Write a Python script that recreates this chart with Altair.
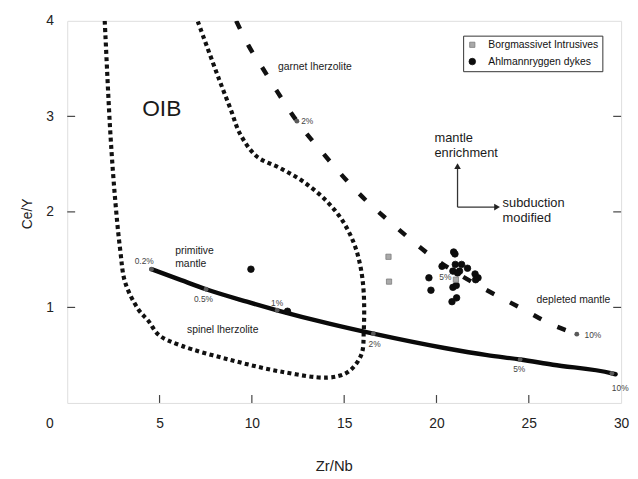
import altair as alt
import pandas as pd

# ---------------- data ----------------
X_TICKS = [0, 5, 10, 15, 20, 25, 30]
Y_TICKS = [0, 1, 2, 3, 4]
INNER_X_TICKS = [5, 10, 15, 20, 25]
INNER_Y_TICKS = [1, 2, 3]

series_names = ["Borgmassivet Intrusives", "Ahlmannryggen dykes"]

borg_x = [17.40, 17.43, 21.05]
borg_y = [1.53, 1.27, 1.29]

ahl_x = [9.95, 11.93, 19.59, 19.70, 20.30, 20.93, 21.00, 21.02, 21.36, 21.68,
         22.09, 22.25, 22.12, 20.89, 21.25, 21.14, 20.89, 21.07, 21.09, 20.84]
ahl_y = [1.40, 0.96, 1.31, 1.18, 1.43, 1.58, 1.56, 1.45, 1.45, 1.41,
         1.35, 1.31, 1.29, 1.38, 1.38, 1.36, 1.21, 1.23, 1.10, 1.06]

# primitive-mantle (spinel lherzolite) melting curve
melt_x = [4.56, 6.17, 7.52, 9.73, 11.37, 14.19, 16.58, 20.43, 22.74, 24.53, 26.30, 29.50, 29.70]
melt_y = [1.40, 1.285, 1.19, 1.06, 0.97, 0.83, 0.725, 0.575, 0.50, 0.455, 0.40, 0.31, 0.30]
melt_mark_x = [4.56, 7.52, 11.37, 16.58, 24.53, 29.50]
melt_mark_y = [1.40, 1.19, 0.97, 0.725, 0.455, 0.31]

# garnet lherzolite melting curve
garnet_x = [9.15, 9.82, 10.63, 11.34, 12.44, 13.83, 15.71, 17.75, 19.98, 22.35, 24.80, 26.04, 27.60]
garnet_y = [4.00, 3.74, 3.49, 3.27, 2.95, 2.62, 2.21, 1.85, 1.50, 1.22, 0.97, 0.84, 0.72]
garnet_mark_x = [12.44, 27.60]
garnet_mark_y = [2.95, 0.72]

# OIB field outline (open at the top)
oib_x = [2.03, 2.07, 2.34, 2.60, 2.87, 3.14, 3.85, 4.39, 4.97, 6.17, 8.84, 11.51, 14.10,
         15.08, 15.61, 15.97, 16.06, 16.06, 15.88, 15.53, 14.90, 14.01, 12.76, 11.51,
         10.27, 9.38, 8.84, 8.22, 7.06]
oib_y = [4.00, 3.84, 2.81, 2.12, 1.60, 1.26, 0.98, 0.86, 0.71, 0.60, 0.45, 0.33, 0.265,
         0.31, 0.40, 0.53, 0.74, 1.15, 1.43, 1.67, 1.91, 2.12, 2.32, 2.46,
         2.58, 2.81, 3.08, 3.39, 4.00]

# annotations
small_text = ["garnet lherzolite", "spinel lherzolite", "depleted mantle"]
small_x = [11.42, 6.49, 25.42]
small_y = [3.52, 0.764, 1.077]

two_line_small = ["primitive\nmantle"]
two_line_small_x = [5.85]
two_line_small_y = [1.637]

big_text = ["mantle\nenrichment", "subduction\nmodified"]
big_x = [19.89, 23.58]
big_y = [2.83, 2.157]

oib_label = ["OIB"]
oib_label_x = [5.12]
oib_label_y = [3.08]

pct_c_text = ["0.2%", "0.5%", "1%", "2%", "5%", "10%", "5%"]
pct_c_x = [4.17, 7.38, 11.37, 16.65, 24.48, 29.95, 20.48]
pct_c_y = [1.49, 1.085, 1.05, 0.62, 0.35, 0.155, 1.32]

pct_l_text = ["2%", "10%"]
pct_l_x = [12.67, 28.02]
pct_l_y = [2.95, 0.713]

# arrow (mantle enrichment / subduction modified)
arrow_x = [21.14, 21.14]
arrow_y = [2.05, 2.05]
arrow_x2 = [21.14, 23.25]
arrow_y2 = [2.46, 2.05]
head_up_x, head_up_y = [21.14], [2.48]
head_right_x, head_right_y = [23.28], [2.05]

# ---------------- chart ----------------
FONT = "Liberation Sans"
W, H = 561, 387

xs = alt.Scale(domain=[0, 30], nice=False, zero=False)
ys = alt.Scale(domain=[0, 4], nice=False, zero=False)

x_axis = alt.Axis(
    values=X_TICKS, title="Zr/Nb", grid=False, domain=False, ticks=False, tickSize=0,
    labelPadding=14, labelFontSize=14, labelFont=FONT, labelColor="#222",
    labelFlush=False, labelOverlap=False, format="d",
    labelOffset={"condition": {"test": "datum.value === 0", "value": -18}, "value": 0},
    titleFont=FONT, titleFontSize=15, titleFontWeight="normal", titleColor="#222",
    titleX=270, titleY=68, titleBaseline="alphabetic", titleAlign="center",
)
y_axis = alt.Axis(
    values=Y_TICKS, title="Ce/Y", grid=False, domain=False, ticks=False, tickSize=0,
    labelPadding=14, labelFontSize=14, labelFont=FONT, labelColor="#222",
    labelFlush=False, labelOverlap=False, format="d",
    labelExpr="datum.value === 0 ? '' : datum.label",
    titleFont=FONT, titleFontSize=14, titleFontWeight="normal", titleColor="#222",
    titleX=-40, titleY=195, titleBaseline="middle", titleAlign="center", titleAngle=-90,
)


def X(f="x"):
    return alt.X(f"{f}:Q", scale=xs, axis=x_axis)


def Y(f="y"):
    return alt.Y(f"{f}:Q", scale=ys, axis=y_axis)


pts = pd.DataFrame({
    "x": ahl_x + borg_x,
    "y": ahl_y + borg_y,
    "series": [series_names[1]] * len(ahl_x) + [series_names[0]] * len(borg_x),
})
melt = pd.DataFrame({"x": melt_x, "y": melt_y})
garnet = pd.DataFrame({"x": garnet_x, "y": garnet_y})
oib = pd.DataFrame({"x": oib_x, "y": oib_y, "i": list(range(len(oib_x)))})
marks = pd.DataFrame({"x": melt_mark_x + garnet_mark_x, "y": melt_mark_y + garnet_mark_y})

oib_line = alt.Chart(oib).mark_line(
    color="#111", strokeWidth=4.2, strokeDash=[4, 3.4], strokeCap="butt",
    interpolate="catmull-rom", clip=True,
).encode(x=X(), y=Y(), order="i:Q")

garnet_line = alt.Chart(garnet).mark_line(
    color="#111", strokeWidth=4.5, strokeDash=[9, 18], strokeCap="butt",
    interpolate="monotone", clip=True,
).encode(x=X(), y=Y())

melt_line = alt.Chart(melt).mark_line(
    color="#0a0a0a", strokeWidth=4.5, strokeCap="round", interpolate="monotone", clip=True,
).encode(x=X(), y=Y())

curve_marks = alt.Chart(marks).mark_circle(size=24, color="#5a5a5a", opacity=1).encode(x=X(), y=Y())

legend = alt.Legend(
    title=None, orient="none", legendX=401, legendY=15, strokeColor="#333", fillColor="white",
    padding=4, rowPadding=6, labelFontSize=10.5, labelFont=FONT, labelColor="#111",
    labelOffset=11, symbolStrokeWidth=0.8,
)
sc_dom = series_names
points = alt.Chart(pts).mark_point(filled=True, strokeWidth=0.8, opacity=1).encode(
    x=X(), y=Y(),
    shape=alt.Shape("series:N", scale=alt.Scale(domain=sc_dom, range=["square", "circle"]), legend=legend),
    fill=alt.Fill("series:N", scale=alt.Scale(domain=sc_dom, range=["#a9a9a9", "#0d0d0d"]), legend=legend),
    stroke=alt.Stroke("series:N", scale=alt.Scale(domain=sc_dom, range=["#7c7c7c", "#0d0d0d"]), legend=legend),
    size=alt.Size("series:N", scale=alt.Scale(domain=sc_dom, range=[28, 44]), legend=legend),
)

# inward ticks
xt = pd.DataFrame({"x": INNER_X_TICKS})
yt = pd.DataFrame({"y": INNER_Y_TICKS})
x_ticks = alt.Chart(xt).mark_rule(color="#444", strokeWidth=1.2).encode(
    x=X(), y=alt.value(H), y2=alt.value(H - 8))
y_ticks_l = alt.Chart(yt).mark_rule(color="#444", strokeWidth=1.2).encode(
    y=Y(), x=alt.value(0), x2=alt.value(8))
y_ticks_r = alt.Chart(yt).mark_rule(color="#444", strokeWidth=1.2).encode(
    y=Y(), x=alt.value(W - 8), x2=alt.value(W))

# arrow
arr = pd.DataFrame({"x": arrow_x, "y": arrow_y, "x2": arrow_x2, "y2": arrow_y2})
arrow = alt.Chart(arr).mark_rule(color="#333", strokeWidth=1.3).encode(
    x=X(), y=Y(), x2="x2:Q", y2="y2:Q")
head_up = alt.Chart(pd.DataFrame({"x": head_up_x, "y": head_up_y})).mark_point(
    filled=True, size=45, color="#222", opacity=1, shape="triangle-up").encode(x=X(), y=Y())
head_right = alt.Chart(pd.DataFrame({"x": head_right_x, "y": head_right_y})).mark_point(
    filled=True, size=45, color="#222", opacity=1, shape="triangle-right").encode(x=X(), y=Y())


def text_layer(texts, xv, yv, size, align="left", baseline="middle", color="#1a1a1a", lh=None):
    df = pd.DataFrame({"x": xv, "y": yv, "t": texts})
    kw = dict(font=FONT, fontSize=size, align=align, baseline=baseline, color=color)
    if lh is not None:
        kw.update(lineBreak="\n", lineHeight=lh)
    return alt.Chart(df).mark_text(**kw).encode(x=X(), y=Y(), text="t:N")


t_small = text_layer(small_text, small_x, small_y, 10.5)
t_prim = text_layer(two_line_small, two_line_small_x, two_line_small_y, 10.5, baseline="top", lh=12.3)
t_big = text_layer(big_text, big_x, big_y, 13, baseline="top", lh=15)
t_oib = text_layer(oib_label, oib_label_x, oib_label_y, 23, align="center")
t_pc = text_layer(pct_c_text, pct_c_x, pct_c_y, 8.5, align="center", color="#444")
t_pl = text_layer(pct_l_text, pct_l_x, pct_l_y, 8.5, align="left", color="#444")

chart = alt.layer(
    oib_line, garnet_line, melt_line, curve_marks, x_ticks, y_ticks_l, y_ticks_r,
    arrow, head_up, head_right, t_small, t_prim, t_big, t_oib, t_pc, t_pl, points,
).properties(
    width=W, height=H,
    padding={"left": 60, "top": 10, "right": 9, "bottom": 71},
    autosize=alt.AutoSizeParams(type="none"),
    background="white",
).configure_view(
    stroke="#555", strokeWidth=1.5,
).configure(font=FONT)

chart.save("out.html", embed_options={"renderer": "svg", "actions": False})
